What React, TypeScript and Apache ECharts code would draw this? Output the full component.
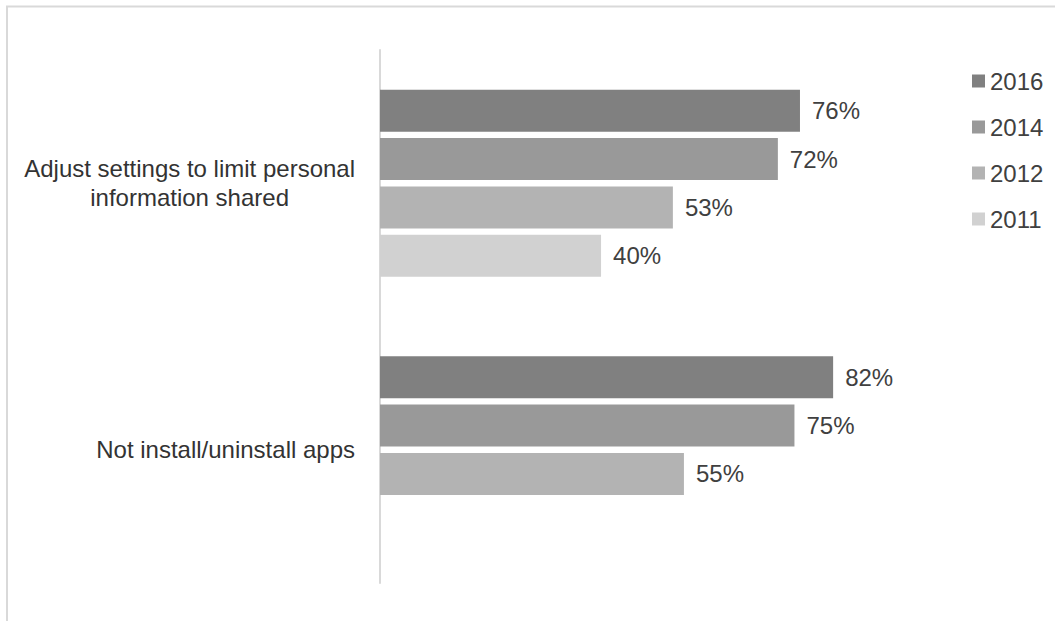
import React, { useEffect, useRef } from "react";
import * as echarts from "echarts";

const categories = [
  "Adjust settings to limit personal information shared",
  "Not install/uninstall apps",
];
const seriesNames = ["2016", "2014", "2012", "2011"];
const values2016 = [76, 82];
const values2014 = [72, 75];
const values2012 = [53, 55];
const values2011: (number | null)[] = [40, null];
const seriesColors = ["#808080", "#999999", "#b3b3b3", "#d1d1d1"];

const FONT = "Liberation Sans";
const FS = 24;

export default function App() {
  const ref = useRef<HTMLDivElement>(null);
  useEffect(() => {
    if (!ref.current) return;
    const chart = echarts.init(ref.current, null, { renderer: "svg" });
    const allValues = [values2016, values2014, values2012, values2011];
    chart.setOption({
      animation: false,
      backgroundColor: "#ffffff",
      textStyle: { fontFamily: FONT },
      graphic: [
        {
          type: "rect",
          shape: { x: 7, y: 6.5, width: 1080, height: 650 },
          style: { fill: "none", stroke: "#d9d9d9", lineWidth: 2 },
          silent: true,
        },
      ],
      legend: {
        orient: "vertical",
        left: 967,
        top: 64,
        itemWidth: 13,
        itemHeight: 13,
        itemGap: 22,
        icon: "rect",
        textStyle: {
          fontFamily: FONT,
          fontSize: FS,
          color: "#404040",
          lineHeight: 24,
        },
        data: seriesNames,
      },
      grid: { left: 380, right: 122.4, top: 50, bottom: 38, containLabel: false },
      xAxis: {
        type: "value",
        min: 0,
        max: 100,
        show: false,
        splitLine: { show: false },
      },
      yAxis: {
        type: "category",
        inverse: true,
        data: categories,
        axisLine: { show: true, lineStyle: { color: "#d9d9d9", width: 2 } },
        axisTick: { show: false },
        axisLabel: {
          margin: 25,
          fontFamily: FONT,
          fontSize: FS,
          lineHeight: 29,
          color: "#333333",
          align: "right",
          formatter: (v: string) =>
            v
              .replace("personal ", "personal\n")
              .split("\n")
              .map((s) => "{c|" + s + "}")
              .join("\n"),
          rich: {
            c: {
              align: "center",
              fontFamily: FONT,
              fontSize: FS,
              lineHeight: 29,
              color: "#333333",
            },
          },
        },
      },
      series: seriesNames.map((name, i) => ({
        name,
        type: "bar",
        data: allValues[i],
        barWidth: 42,
        barGap: "15%",
        itemStyle: { color: seriesColors[i] },
        label: {
          show: true,
          position: "right",
          distance: 12,
          fontFamily: FONT,
          fontSize: FS,
          color: "#404040",
          formatter: (p: any) => (p.value == null ? "" : p.value + "%"),
        },
      })),
    });
    return () => chart.dispose();
  }, []);
  return (
    <div
      ref={ref}
      style={{ position: "absolute", left: 0, top: 0, width: 1055, height: 621 }}
    />
  );
}
